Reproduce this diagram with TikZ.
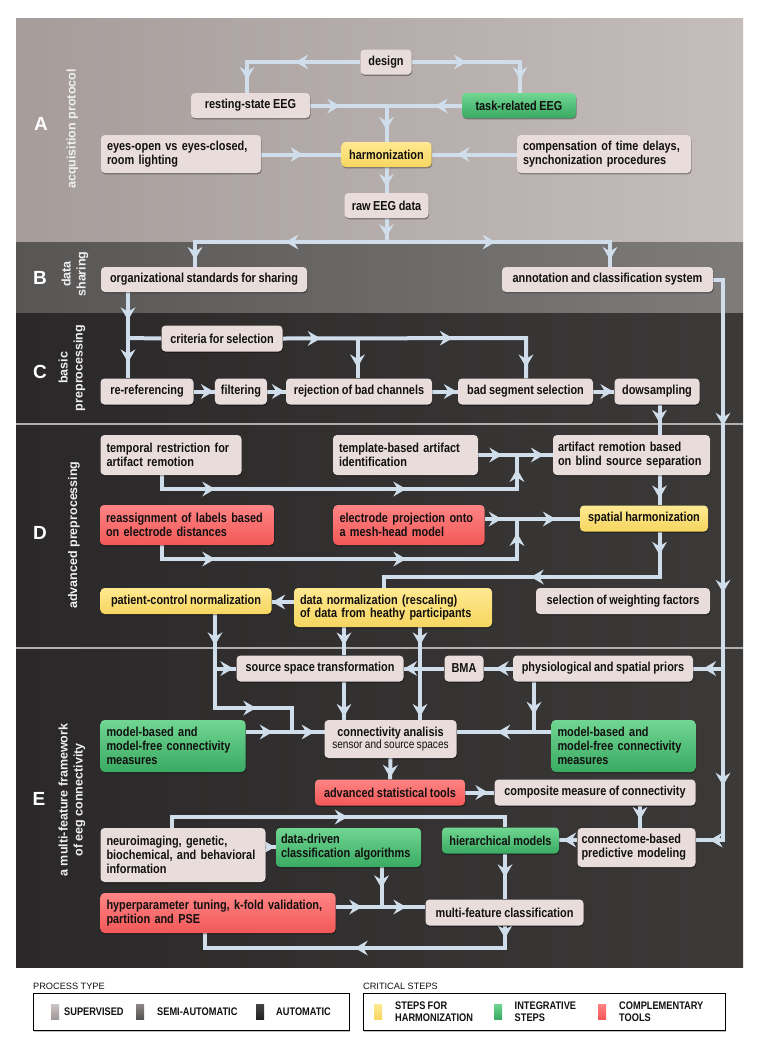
\documentclass[tikz,border=0pt]{standalone}
\usepackage{fontspec}
\setmainfont{Liberation Sans}
\newfontfamily\lab{Liberation Sans}[FakeStretch=0.84,WordSpace=0.85]
\usetikzlibrary{arrows.meta,decorations.markings,shadows,calc}
\definecolor{lc}{RGB}{208,222,236}
\definecolor{boxg}{RGB}{232,221,219}
\definecolor{txt}{RGB}{18,16,16}
\definecolor{ytop}{RGB}{255,233,145}
\definecolor{ybot}{RGB}{246,214,96}
\definecolor{gtop}{RGB}{112,214,146}
\definecolor{gbot}{RGB}{58,170,98}
\definecolor{rtop}{RGB}{255,132,132}
\definecolor{rbot}{RGB}{243,88,88}
\definecolor{pA1}{RGB}{166,157,155}
\definecolor{pA2}{RGB}{196,189,187}
\definecolor{pB1}{RGB}{88,85,85}
\definecolor{pB2}{RGB}{126,123,123}
\definecolor{pC1}{RGB}{42,40,40}
\definecolor{pC2}{RGB}{60,57,57}
\definecolor{sepc}{RGB}{175,175,175}
\definecolor{sq1}{RGB}{205,197,195}
\definecolor{sq2}{RGB}{160,152,150}
\definecolor{sq3}{RGB}{140,136,136}
\definecolor{sq4}{RGB}{85,82,82}
\definecolor{sq5}{RGB}{70,68,68}
\definecolor{sq6}{RGB}{35,34,34}
\pgfdeclarelayer{bg}
\pgfdeclarelayer{lines}
\pgfsetlayers{bg,lines,main}
\tikzset{
  ln/.style={draw=lc, line width=4pt, line join=miter},
  ar/.style={postaction={decorate, decoration={markings, mark=at position #1 with {\arrow{Stealth[length=13pt,width=15pt,inset=4.5pt,line width=0pt,color=lc]}}}}},
  box/.style={rounded corners=4pt, inner xsep=6pt, inner ysep=0pt, align=center,
    font=\lab\bfseries\fontsize{13pt}{13.7pt}\selectfont, text=txt,
    drop shadow={shadow xshift=0.6pt, shadow yshift=-1.3pt, opacity=0.35, fill=black}},
  gb/.style={box, fill=boxg},
  yb/.style={box, top color=ytop, bottom color=ybot},
  grb/.style={box, top color=gtop, bottom color=gbot},
  rb/.style={box, top color=rtop, bottom color=rbot},
  wh/.style 2 args={minimum width=#1pt, minimum height=#2pt},
  tw/.style={text width=#1pt, align=left},
  plet/.style={text=white, font=\bfseries\fontsize{19pt}{19pt}\selectfont},
  vlab/.style={text=white!94!black, rotate=90, align=center, font=\bfseries\fontsize{12.5pt}{15pt}\selectfont},
  lg/.style={font=\lab\bfseries\fontsize{11pt}{12.2pt}\selectfont, text=txt, anchor=west, align=left, inner sep=0pt},
  lgh/.style={font=\fontsize{9.2pt}{10pt}\selectfont, text=txt, anchor=west, inner sep=0pt},
  lbox/.style={draw=black, fill=white, line width=1.3pt, anchor=north west, inner sep=0pt,
    drop shadow={shadow xshift=0.5pt, shadow yshift=-1.5pt, opacity=0.25, fill=black}},
}
\begin{document}
\begin{tikzpicture}[x=1pt,y=-1pt]
\useasboundingbox (0,0) rectangle (758,1050);
\begin{pgfonlayer}{bg}
\fill[white] (0,0) rectangle (758,1050);
\shade[left color=pA1, right color=pA2] (16,18) rectangle (743,242);
\shade[left color=pB1, right color=pB2] (16,242) rectangle (743,313);
\shade[left color=pC1, right color=pC2] (16,313) rectangle (743,967);
\draw[sepc, line width=1.2pt] (16,424) -- (743,424);
\draw[sepc, line width=1.2pt] (16,648) -- (743,648);
\end{pgfonlayer}

% panel labels
\node[plet] (LA) at (41,124) {A};
\node[vlab] (TA) at (72.5,129) {acquisition protocol};
\node[plet] (LB) at (40,278) {B};
\node[vlab] (TB) at (75,274) {data\\sharing};
\node[plet] (LC) at (40,372) {C};
\node[vlab] (TC) at (72,368) {basic\\preprocessing};
\node[plet] (LD) at (40,533) {D};
\node[vlab] (TD) at (74,535) {advanced preprocessing};
\node[plet] (LE) at (39,799) {E};
\node[vlab] (TE) at (72,800) {a multi-feature framework\\of eeg connectivity};

% A
\node[gb, wh={51}{25}] (design) at (386,62) {design};
\node[gb, wh={119}{25}] (rest) at (250.5,105.5) {resting-state EEG};
\node[grb, wh={114}{25}] (task) at (519,105.5) {task-related EEG};
\node[gb, wh={160}{38}, tw={148}] (eyes) at (181,154) {eyes-open vs eyes-closed,\\room lighting};
\node[yb, wh={90}{25}] (harm) at (386.5,154.5) {harmonization};
\node[gb, wh={174}{38}, tw={162}] (comp) at (604,154) {compensation of time delays,\\synchonization procedures};
\node[gb, wh={84}{25}] (raw) at (386.5,205.5) {raw EEG data};
% B
\node[gb, wh={206}{25}] (org) at (204,279.5) {organizational standards for sharing};
\node[gb, wh={211}{25}] (annot) at (607.5,279.5) {annotation and classification system};
% C
\node[gb, wh={121}{26}] (crit) at (222,338.5) {criteria for selection};
\node[gb, wh={93}{26}] (reref) at (147,391.5) {re-referencing};
\node[gb, wh={52}{26}] (filt) at (241,391.5) {filtering};
\node[gb, wh={146}{26}] (rej) at (359,391.5) {rejection of bad channels};
\node[gb, wh={135}{26}] (bads) at (525.5,391.5) {bad segment selection};
\node[gb, wh={85}{26}] (dows) at (657,391.5) {dowsampling};
% D
\node[gb, wh={141}{40}, tw={129}] (temp) at (171,455) {temporal restriction for\\artifact remotion};
\node[gb, wh={145}{40}, tw={133}] (tmpl) at (405.5,455) {template-based artifact\\identification};
\node[gb, wh={157}{40}, tw={147}, inner xsep=5pt] (bss) at (631.5,455) {artifact remotion based\\on blind source separation};
\node[rb, wh={174}{40}, tw={162}] (reas) at (187,525) {reassignment of labels based\\on electrode distances};
\node[rb, wh={151}{40}, tw={139}] (elec) at (409,525) {electrode projection onto\\a mesh-head model};
\node[yb, wh={128}{26}] (spat) at (644,518.5) {spatial harmonization};
\node[yb, wh={171}{26}] (pcn) at (186,601) {patient-control normalization};
\node[yb, wh={198}{39}, tw={186}] (dnorm) at (393,607.5) {data normalization (rescaling)\\of data from heathy participants};
\node[gb, wh={174}{26}] (selw) at (623,601) {selection of weighting factors};
% E
\node[gb, wh={167}{26}] (sst) at (320,668.5) {source space transformation};
\node[gb, wh={39}{26}] (bma) at (464,668.5) {BMA};
\node[gb, wh={180}{26}] (phys) at (603,668.5) {physiological and spatial priors};
\node[gb, wh={132}{38}] (conn) at (390.5,739) {connectivity analisis\\[-1pt]{\lab\mdseries\fontsize{12pt}{13pt}\selectfont sensor and source spaces}};
\node[grb, wh={145}{52}, tw={133}] (mbl) at (173,746) {model-based and\\model-free connectivity\\measures};
\node[grb, wh={144}{52}, tw={132}] (mbr) at (623.5,746) {model-based and\\model-free connectivity\\measures};
\node[rb, wh={150}{26}] (ast) at (390,792.5) {advanced statistical tools};
\node[gb, wh={201}{26}] (comp2) at (595,792.5) {composite measure of connectivity};
\node[gb, wh={118}{39}, tw={110}, inner xsep=4pt] (cpm) at (636.5,847.5) {connectome-based\\predictive modeling};
\node[grb, wh={117}{26}] (hier) at (500.5,840.5) {hierarchical models};
\node[grb, wh={145}{39}, tw={135}, inner xsep=5pt] (ddc) at (348.5,847.5) {data-driven\\classification algorithms};
\node[gb, wh={165}{54}, tw={153}] (neuro) at (183,855) {neuroimaging, genetic,\\biochemical, and behavioral\\information};
\node[rb, wh={235}{40}, tw={223}] (hyp) at (218,913) {hyperparameter tuning, k-fold validation,\\partition and PSE};
\node[gb, wh={158}{26}] (mfc) at (504.5,912.5) {multi-feature classification};

% legend
\node[lgh] (pth) at (33,986) {PROCESS TYPE};
\node[lbox, minimum width=316pt, minimum height=37pt] (lb1) at (33,993) {};
\node[lgh] (csh) at (363,986) {CRITICAL STEPS};
\node[lbox, minimum width=362pt, minimum height=37pt] (lb2) at (363,993) {};
\shade[top color=sq1, bottom color=sq2] (51,1004) rectangle (59,1019);
\node[lg] (l1) at (64,1011.5) {SUPERVISED};
\shade[top color=sq3, bottom color=sq4] (136,1004) rectangle (144,1019);
\node[lg] (l2) at (157,1011.5) {SEMI-AUTOMATIC};
\shade[top color=sq5, bottom color=sq6] (256,1004) rectangle (264,1019);
\node[lg] (l3) at (276,1011.5) {AUTOMATIC};
\shade[top color=ytop, bottom color=ybot] (374,1004) rectangle (382,1019);
\node[lg] (l4) at (395,1011.5) {STEPS FOR\\HARMONIZATION};
\shade[top color=gtop, bottom color=gbot] (494,1004) rectangle (502,1019);
\node[lg] (l5) at (514.5,1011.5) {INTEGRATIVE\\STEPS};
\shade[top color=rtop, bottom color=rbot] (598,1004) rectangle (606,1019);
\node[lg] (l6) at (619,1011.5) {COMPLEMENTARY\\TOOLS};

% coordinates
\coordinate (dL) at (247,62);
\coordinate (dR) at (520,62);
\coordinate (jA) at (386.5,106);
\coordinate (jB) at (386.5,242);
\coordinate (bL) at (195,242);
\coordinate (bR) at (610,242);
\coordinate (vO) at (128,338);
\coordinate (cR) at (526,338);
\coordinate (cM) at (357.5,338);
\coordinate (xV) at (659.5,0);
\coordinate (rT) at (723,279.5);
\coordinate (rP) at (723,668.5);
\coordinate (rB) at (723,840);
\coordinate (t1) at (162,489);
\coordinate (t2) at (517,489);
\coordinate (jD1) at (517,455);
\coordinate (r1) at (162,559);
\coordinate (r2) at (517,559);
\coordinate (jD2) at (517,519);
\coordinate (s1) at (659.5,577);
\coordinate (s2) at (384,577);
\coordinate (pX) at (215,0);
\coordinate (pS) at (215,668.5);
\coordinate (p1) at (215,708);
\coordinate (p2) at (292,708);
\coordinate (p3) at (292,732);
\coordinate (cl) at (324.5,732);
\coordinate (cr) at (456.5,732);
\coordinate (ph1) at (534,732);
\coordinate (xA) at (344,0);
\coordinate (xB) at (420,0);
\coordinate (xC) at (640,0);
\coordinate (yN) at (0,847);
\coordinate (n1) at (171.5,817);
\coordinate (n2) at (505,817);
\coordinate (jH) at (381.5,907);
\coordinate (m1) at (505,948);
\coordinate (m2) at (205,948);

\begin{pgfonlayer}{lines}
% A
\draw[ln, ar=65pt, ar=-13pt] (design.west) -- (dL) -- (dL |- rest.north);
\draw[ln, ar=55pt, ar=-13pt] (design.east) -- (dR) -- (dR |- task.north);
\draw[ln, ar=30pt] (rest.east |- jA) -- (jA);
\draw[ln, ar=27pt] (task.west |- jA) -- (jA);
\draw[ln, ar=-12pt] (jA) -- (harm.north);
\draw[ln, ar=-38pt] (eyes.east |- harm.west) -- (harm.west);
\draw[ln, ar=-25pt] (comp.west |- harm.east) -- (harm.east);
\draw[ln, ar=-6pt] (harm.south) -- (raw.north);
\draw[ln, ar=-5pt] (raw.south) -- (jB);
\draw[ln, ar=101pt, ar=-7pt] (jB) -- (bL) -- (bL |- org.north);
\draw[ln, ar=109pt, ar=-7pt] (jB) -- (bR) -- (bR |- annot.north);
% B -> C
\draw[ln, ar=28pt, ar=-16pt] (org.south -| vO) -- (vO |- reref.north);
\draw[ln] (vO) -- (crit.west);
\draw[ln, ar=38pt, ar=170pt, ar=-11pt] (crit.east) -- (cR) -- (cR |- bads.north);
\draw[ln, ar=-11pt] (cM) -- (cM |- rej.north);
\draw[ln, ar=-1pt] (reref.east) -- (filt.west);
\draw[ln, ar=-1pt] (filt.east) -- (rej.west);
\draw[ln, ar=-1pt] (rej.east) -- (bads.west);
\draw[ln, ar=-1pt] (bads.east) -- (dows.west);
% right trunk
\draw[ln, ar=156pt, ar=323pt, ar=516pt, ar=-14pt] (annot.east) -- (rT) -- (rB) -- (rB -| cpm.east);
\draw[ln, ar=-10pt] (rP) -- (phys.east);
% C -> D
\draw[ln, ar=-12pt] (dows.south -| xV) -- (bss.north -| xV);
\draw[ln, ar=67pt, ar=258pt, ar=-14pt] (temp.south -| t1) -- (t1) -- (t2) -- (jD1);
\draw[ln, ar=24pt] (tmpl.east) -- (jD1);
\draw[ln, ar=-9pt] (jD1) -- (bss.west);
\draw[ln, ar=-7pt] (bss.south -| xV) -- (spat.north -| xV);
\draw[ln, ar=67pt, ar=258pt, ar=-14pt] (reas.south -| r1) -- (r1) -- (r2) -- (jD2);
\draw[ln, ar=17pt] (elec.east |- jD2) -- (jD2);
\draw[ln, ar=-24pt] (jD2) -- (spat.west |- jD2);
\draw[ln, ar=23pt, ar=174pt] (spat.south -| xV) -- (s1) -- (s2) -- (s2 |- dnorm.north);
\draw[ln, ar=-0.5pt] ($(dnorm.west)+(0,-5.5)$) -- ($(pcn.east)+(0,1)$);
% D -> E
\draw[ln, ar=31pt, ar=135pt] (pcn.south -| pX) -- (p1) -- (p2) -- (p3);
\draw[ln, ar=-3pt] (pS) -- (sst.west);
\draw[ln, ar=-10pt] (dnorm.south -| xA) -- (sst.north -| xA);
\draw[ln, ar=18pt, ar=-3pt] (dnorm.south -| xB) -- (conn.north -| xB);
\draw[ln, ar=-3pt] (sst.south -| xA) -- (conn.north -| xA);
\draw[ln, ar=-12pt] (phys.west) -- (bma.east);
\draw[ln, ar=-0.5pt] (bma.west) -- (sst.east);
\draw[ln, ar=33pt, ar=87pt] (phys.south -| ph1) -- (ph1) -- (cr);
\draw[ln] (mbr.west |- ph1) -- (ph1);
\draw[ln, ar=27pt, ar=-10pt] (mbl.east |- cl) -- (cl);
\draw[ln, ar=-1.5pt] (conn.south) -- (ast.north);
\draw[ln, ar=-6pt] (ast.east) -- (comp2.west);
\draw[ln, ar=-8pt] (comp2.south -| xC) -- (cpm.north -| xC);
\draw[ln, ar=-4pt] (cpm.west |- rB) -- (hier.east |- rB);
\draw[ln, ar=187pt] (neuro.north -| n1) -- (n1) -- (n2) -- (hier.north -| n2);
\draw[ln, ar=-1pt] (neuro.east |- yN) -- (ddc.west |- yN);
\draw[ln, ar=21pt] (ddc.south -| jH) -- (jH);
\draw[ln, ar=26.5pt, ar=-19pt] (hyp.east |- jH) -- (jH) -- (mfc.west |- jH);
\draw[ln, ar=23.5pt] (hier.south -| n2) -- (mfc.north -| n2);
\draw[ln, ar=12.5pt, ar=172.5pt] (mfc.south -| m1) -- (m1) -- (m2) -- (hyp.south -| m2);
\end{pgfonlayer}
\end{tikzpicture}
\end{document}
